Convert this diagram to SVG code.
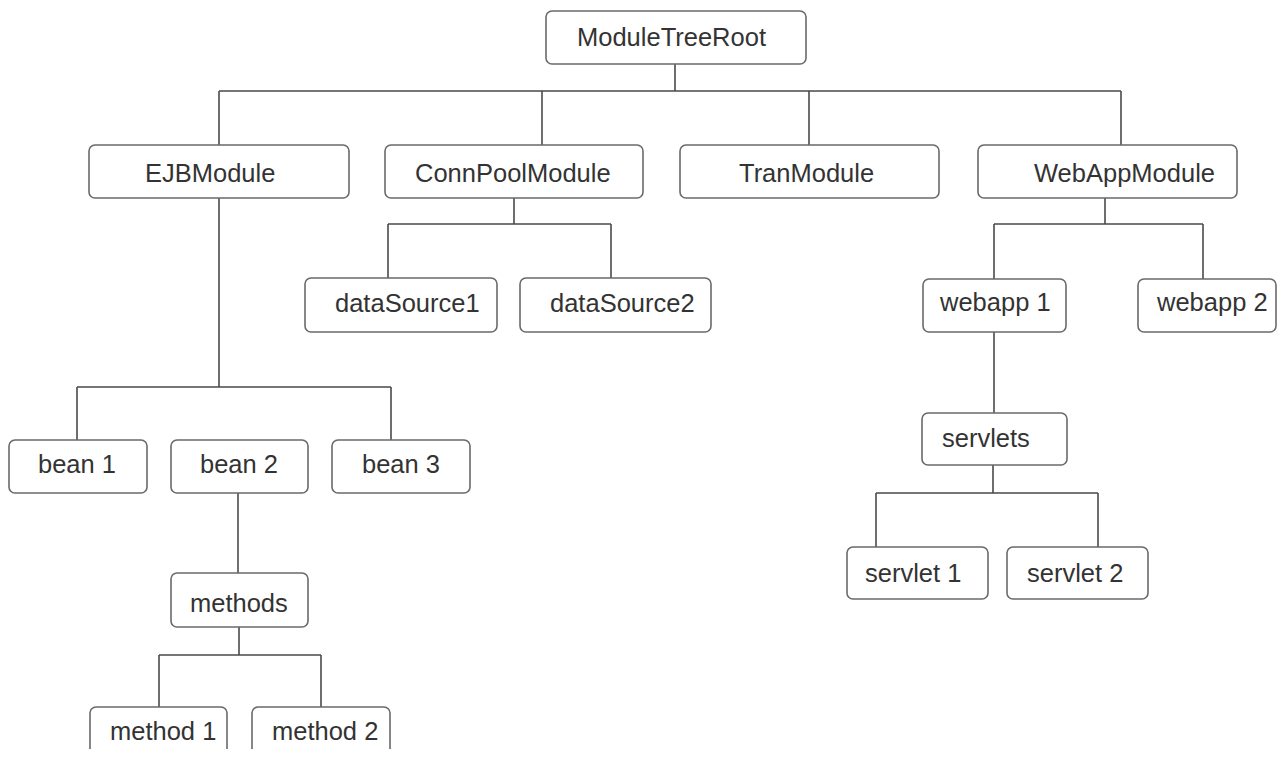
<svg xmlns="http://www.w3.org/2000/svg" width="1278" height="759" viewBox="0 0 1278 759">
<style>
.box{fill:#fff;stroke:#6a6a6a;stroke-width:1.6}
.lbl{font-family:"Liberation Sans",Arial,sans-serif;font-size:25.5px;fill:#333}
.con{stroke:#4a4a4a;stroke-width:1.6;fill:none}
</style>
<defs>
<clipPath id="cut"><rect x="0" y="0" width="1278" height="749"/></clipPath>
</defs>
<rect width="1278" height="759" fill="#fff"/>
<g id="connectors">
<path class="con" d="M675 64V91M219 91H1121M219 91V145M542 91V145M809 91V145M1121 91V145"/>
<path class="con" d="M219 198V387M77 387H391M77 387V440M391 387V440"/>
<path class="con" d="M238 493V573M239 627V655M159 655H321M159 655V707M321 655V707"/>
<path class="con" d="M514 198V224M388 224H611M388 224V278M611 224V278"/>
<path class="con" d="M1105 198V224M994 224H1203M994 224V279M1203 224V279"/>
<path class="con" d="M994 332V413M993 465V493M876 493H1098M876 493V547M1098 493V547"/>
</g>
<g id="n-root"><rect class="box" x="546" y="11" width="260" height="53" rx="6"/><text class="lbl" x="577" y="46">ModuleTreeRoot</text></g>
<g id="n-ejb"><rect class="box" x="89" y="145" width="260" height="53" rx="6"/><text class="lbl" x="145" y="182">EJBModule</text></g>
<g id="n-connpool"><rect class="box" x="385" y="145" width="258" height="53" rx="6"/><text class="lbl" x="415" y="182">ConnPoolModule</text></g>
<g id="n-tran"><rect class="box" x="680" y="145" width="259" height="53" rx="6"/><text class="lbl" x="739" y="182">TranModule</text></g>
<g id="n-webapp"><rect class="box" x="978" y="145" width="259" height="53" rx="6"/><text class="lbl" x="1034" y="182">WebAppModule</text></g>
<g id="n-ds1"><rect class="box" x="305" y="278" width="192" height="54" rx="6"/><text class="lbl" x="335" y="312">dataSource1</text></g>
<g id="n-ds2"><rect class="box" x="520" y="278" width="191" height="54" rx="6"/><text class="lbl" x="550" y="312">dataSource2</text></g>
<g id="n-webapp1"><rect class="box" x="923" y="279" width="143" height="53" rx="6"/><text class="lbl" x="940" y="311">webapp 1</text></g>
<g id="n-webapp2"><rect class="box" x="1138" y="279" width="138" height="53" rx="6"/><text class="lbl" x="1157" y="311">webapp 2</text></g>
<g id="n-bean1"><rect class="box" x="9" y="440" width="138" height="53" rx="6"/><text class="lbl" x="38" y="473">bean 1</text></g>
<g id="n-bean2"><rect class="box" x="171" y="440" width="137" height="53" rx="6"/><text class="lbl" x="200" y="473">bean 2</text></g>
<g id="n-bean3"><rect class="box" x="332" y="440" width="138" height="53" rx="6"/><text class="lbl" x="362" y="473">bean 3</text></g>
<g id="n-methods"><rect class="box" x="171" y="573" width="137" height="54" rx="6"/><text class="lbl" x="190" y="612">methods</text></g>
<g id="n-method1" clip-path="url(#cut)"><rect class="box" x="90" y="707" width="137" height="80" rx="6"/><text class="lbl" x="110" y="740">method 1</text></g>
<g id="n-method2" clip-path="url(#cut)"><rect class="box" x="252" y="707" width="138" height="80" rx="6"/><text class="lbl" x="272" y="740">method 2</text></g>
<g id="n-servlets"><rect class="box" x="922" y="413" width="145" height="52" rx="6"/><text class="lbl" x="942" y="447">servlets</text></g>
<g id="n-servlet1"><rect class="box" x="847" y="547" width="141" height="52" rx="6"/><text class="lbl" x="865" y="582">servlet 1</text></g>
<g id="n-servlet2"><rect class="box" x="1007" y="547" width="141" height="52" rx="6"/><text class="lbl" x="1027" y="582">servlet 2</text></g>
</svg>
